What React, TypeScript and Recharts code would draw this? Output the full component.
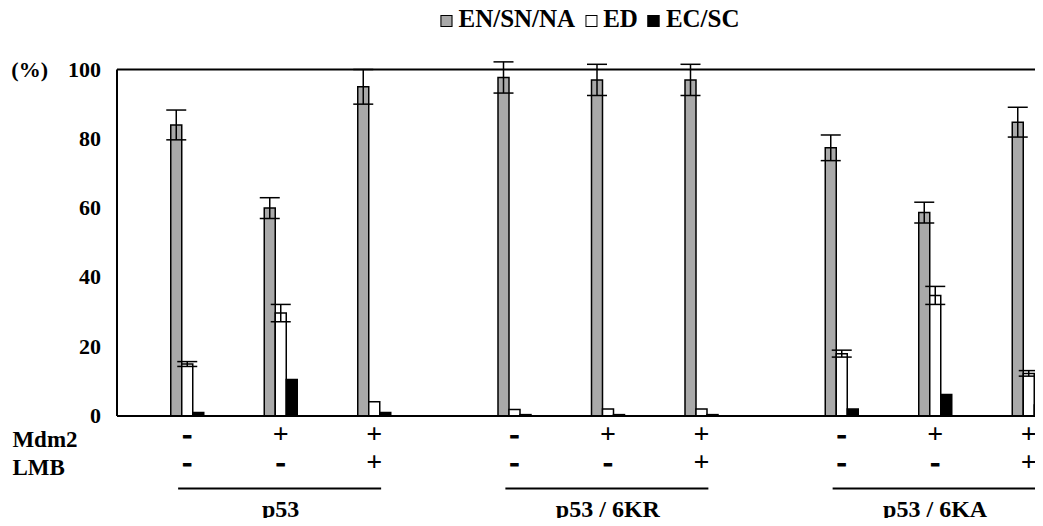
import React from "react";
import { BarChart, Bar, XAxis, YAxis, ErrorBar, ReferenceLine } from "recharts";

const groupLabels = ["p53", "p53 / 6KR", "p53 / 6KA"];
const mdm2Signs = ["-", "+", "+"];
const lmbSigns = ["-", "-", "+"];
const yTicks = [0, 20, 40, 60, 80, 100];

// one value per bar triplet (3 groups x 3 conditions)
const enSnNa = [84, 60, 95, 97.7, 97, 97, 77.4, 58.7, 84.8];
const enSnNaErr = [4.3, 3, 5, 4.5, 4.5, 4.5, 3.7, 3, 4.3];
const ed = [15, 29.7, 4.1, 1.9, 2, 2, 18, 34.8, 12.3];
const edErr = [0.7, 2.5, null, null, null, null, 1, 2.6, 0.8];
const ecSc = [1, 10.5, 1, 0.4, 0.4, 0.4, 2, 6.2, 3.2];

const SLOTS = 20;
const FONT = '"Liberation Serif", "Times New Roman", serif';
const GRAY = "#a9a9a9";

type Row = {
  key: string;
  en: number | null;
  enErr: number | null;
  ed: number | null;
  edErr: number | null;
  ec: number | null;
  mdm2?: string;
  lmb?: string;
  group?: number;
  cond?: number;
};

const data: Row[] = [];
for (let s = 0; s < SLOTS; s++) {
  data.push({ key: "s" + s, en: null, enErr: null, ed: null, edErr: null, ec: null });
}
groupLabels.forEach((_, g) => {
  for (let c = 0; c < 3; c++) {
    const i = g * 3 + c;
    const slot = 1 + g * 7 + c * 2;
    data[slot] = {
      key: "s" + slot,
      en: enSnNa[i],
      enErr: enSnNaErr[i],
      ed: ed[i],
      edErr: edErr[i],
      ec: ecSc[i],
      mdm2: mdm2Signs[c],
      lmb: lmbSigns[c],
      group: g,
      cond: c,
    };
  }
});

const Sign = ({ x, y, s }: { x: number; y: number; s: string }) => (
  <text
    x={x}
    y={y}
    textAnchor="middle"
    fontSize={28}
    fontWeight="bold"
    fontFamily={FONT}
    fill="#000"
    stroke={s === "-" ? "#000" : "none"}
    strokeWidth={s === "-" ? 1.2 : 0}
  >
    {s}
  </text>
);

const XTick = (props: any) => {
  const { x, y, payload } = props;
  const idx = payload?.index ?? 0;
  const row = data[idx];
  const half = payload?.offset ?? 23.375;
  const els: React.ReactNode[] = [];
  if (idx === 0) {
    els.push(
      <text key="m" x={x - 128} y={y + 31} textAnchor="start" fontSize={23} fontWeight="bold" fontFamily={FONT} fill="#000">
        Mdm2
      </text>,
      <text key="l" x={x - 128} y={y + 59} textAnchor="start" fontSize={23} fontWeight="bold" fontFamily={FONT} fill="#000">
        LMB
      </text>
    );
  }
  if (row && row.mdm2) {
    els.push(
      <Sign key="a" x={x} y={y + 27} s={row.mdm2} />,
      <Sign key="b" x={x} y={y + 55} s={row.lmb as string} />
    );
    if (row.cond === 1 && row.group !== undefined) {
      els.push(
        <line key="u" x1={x - 4 * half - 9} x2={x + 4 * half + 7} y1={y + 72.5} y2={y + 72.5} stroke="#000" strokeWidth={2} />,
        <text key="g" x={x} y={y + 101} textAnchor="middle" fontSize={24} fontWeight="bold" fontFamily={FONT} fill="#000">
          {groupLabels[row.group]}
        </text>
      );
    }
  }
  return <g>{els}</g>;
};

const YTick = (props: any) => {
  const { x, y, payload } = props;
  return (
    <g>
      <text x={x} y={y + 7} textAnchor="end" fontSize={22} fontWeight="bold" fontFamily={FONT} fill="#000">
        {payload.value}
      </text>
      {payload.value === 100 ? (
        <text x={x - 53} y={y + 7} textAnchor="end" fontSize={22} fontWeight="bold" fontFamily={FONT} fill="#000">
          (%)
        </text>
      ) : null}
    </g>
  );
};

const legendItems = [
  { label: "EN/SN/NA", fill: GRAY },
  { label: "ED", fill: "#fff" },
  { label: "EC/SC", fill: "#000" },
];

export default function App() {
  return (
    <div
      style={{
        position: "relative",
        width: 1035,
        height: 526,
        overflow: "hidden",
        marginTop: -8,
        marginBottom: -8,
      }}
    >
      <div
        style={{
          position: "absolute",
          left: 582,
          top: 6,
          transform: "translateX(-50%)",
          display: "flex",
          alignItems: "baseline",
          whiteSpace: "nowrap",
          fontFamily: FONT,
          fontWeight: "bold",
          fontSize: 25,
          lineHeight: 1,
          color: "#000",
          zIndex: 2,
        }}
      >
        {legendItems.map((it, i) => (
          <React.Fragment key={it.label}>
            <span
              style={{
                display: "inline-block",
                width: 10,
                height: 10,
                background: it.fill,
                border: "1.5px solid #000",
                marginLeft: i === 0 ? 0 : 10,
                marginRight: 6,
              }}
            />
            <span>{it.label}</span>
          </React.Fragment>
        ))}
      </div>
      <BarChart
        width={1100}
        height={526}
        data={data}
        margin={{ top: 69.5, right: 56, left: 0, bottom: 10 }}
        barGap={0}
        barSize={11}
      >
        <ReferenceLine y={100} stroke="#000" strokeWidth={2} />
        <XAxis
          dataKey="key"
          type="category"
          interval={0}
          height={100}
          tickLine={false}
          tickSize={0}
          tickMargin={0}
          axisLine={{ stroke: "#000", strokeWidth: 2 }}
          tick={<XTick />}
        />
        <YAxis
          domain={[0, 100]}
          allowDataOverflow
          ticks={yTicks}
          width={109}
          tickLine={false}
          tickSize={0}
          tickMargin={16}
          axisLine={{ stroke: "#000", strokeWidth: 2 }}
          tick={<YTick />}
        />
        <Bar dataKey="en" fill={GRAY} stroke="#000" strokeWidth={1.5} isAnimationActive={false}>
          <ErrorBar dataKey="enErr" width={10} stroke="#000" strokeWidth={1.5} direction="y" />
        </Bar>
        <Bar dataKey="ed" fill="#fff" stroke="#000" strokeWidth={1.5} isAnimationActive={false}>
          <ErrorBar dataKey="edErr" width={10} stroke="#000" strokeWidth={1.5} direction="y" />
        </Bar>
        <Bar dataKey="ec" fill="#000" stroke="#000" strokeWidth={1.5} isAnimationActive={false} />
      </BarChart>
    </div>
  );
}
